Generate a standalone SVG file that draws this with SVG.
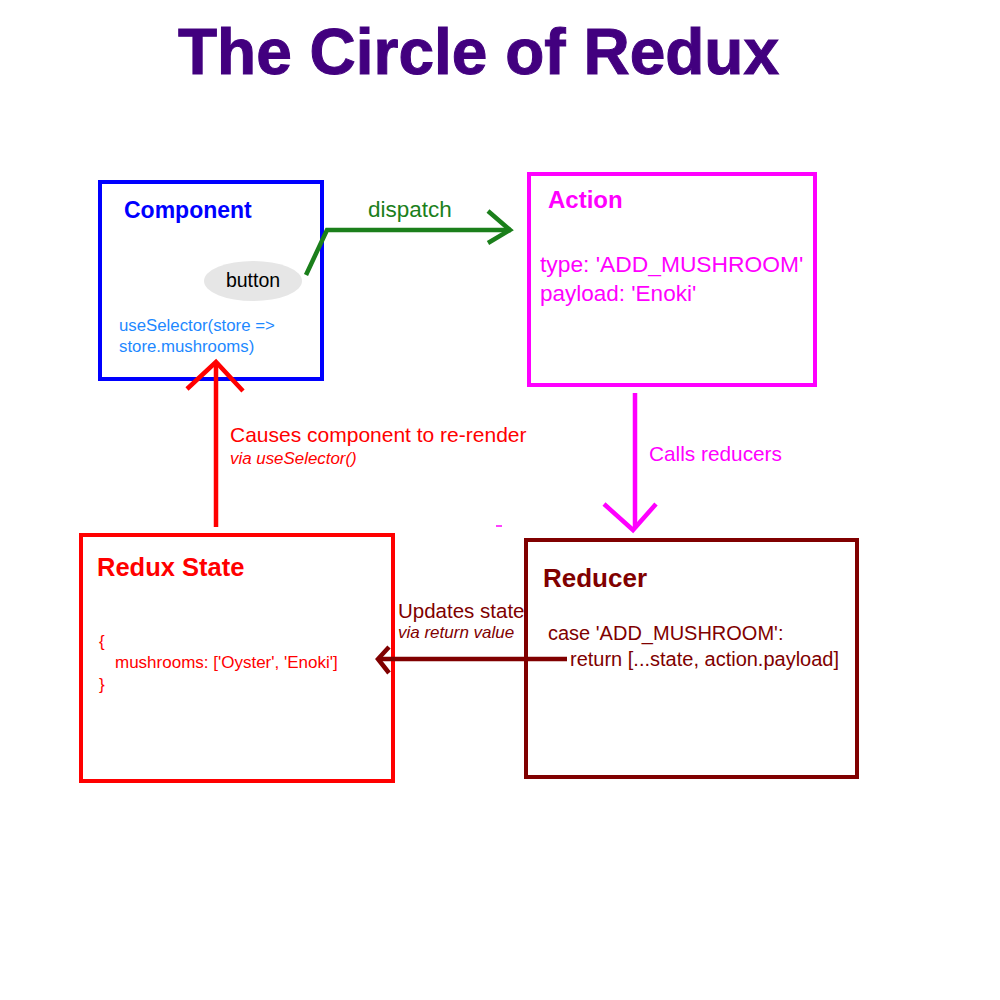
<svg xmlns="http://www.w3.org/2000/svg" width="1000" height="1000" viewBox="0 0 1000 1000">
<style>
text{font-family:"Liberation Sans",Arial,Helvetica,sans-serif}
.h{font-weight:bold}
.box{fill:none;stroke-width:4}
.ln{fill:none;stroke-width:4.5;stroke-linejoin:miter}
</style>
<rect width="1000" height="1000" fill="#ffffff"/>
<text x="178" y="74" class="h" font-size="64" fill="#42007f" stroke="#42007f" stroke-width="1">The Circle of Redux</text>

<g id="component">
<rect class="box" x="100" y="182" width="222" height="197" stroke="#0000ff"/>
<text x="124" y="218" class="h" font-size="23" fill="#0000ff">Component</text>
<ellipse cx="253" cy="281" rx="49" ry="20" fill="#e6e6e6"/>
<text x="253" y="287" font-size="19.5" fill="#000000" text-anchor="middle">button</text>
<text x="119" y="331" font-size="16.8" fill="#1e88ff">useSelector(store =&gt;</text>
<text x="119" y="352" font-size="16.8" fill="#1e88ff">store.mushrooms)</text>
</g>

<g id="action">
<rect class="box" x="529" y="174" width="286" height="211" stroke="#ff00ff"/>
<text x="548" y="208" class="h" font-size="24" fill="#ff00ff">Action</text>
<text x="540" y="272" font-size="22.8" fill="#ff00ff">type: 'ADD_MUSHROOM'</text>
<text x="540" y="301" font-size="22.5" fill="#ff00ff">payload: 'Enoki'</text>
</g>

<g id="reducer">
<rect class="box" x="526" y="540" width="331" height="237" stroke="#800000"/>
<text x="543" y="587" class="h" font-size="26" fill="#800000">Reducer</text>
<text x="548" y="640" font-size="20" fill="#800000">case 'ADD_MUSHROOM':</text>
<text x="570" y="666" font-size="20" fill="#800000">return [...state, action.payload]</text>
</g>

<g id="redux-state">
<rect class="box" x="81" y="535" width="312" height="246" stroke="#ff0000"/>
<text x="97" y="576" class="h" font-size="25.5" fill="#ff0000">Redux State</text>
<text x="99" y="647" font-size="17" fill="#ff0000">{</text>
<text x="115" y="668" font-size="17" fill="#ff0000">mushrooms: ['Oyster', 'Enoki']</text>
<text x="99" y="690" font-size="17" fill="#ff0000">}</text>
</g>

<g id="connectors">
<polyline class="ln" stroke="#1b7f1b" points="306,275 327,230 511,230"/>
<polyline class="ln" stroke="#1b7f1b" points="488,211 510,230 488,243"/>
<text x="368" y="217" font-size="22.5" fill="#1b7f1b">dispatch</text>

<line class="ln" stroke="#ff00ff" x1="635" y1="393" x2="635" y2="528"/>
<polyline class="ln" stroke="#ff00ff" points="604,504 633,530 656,504"/>
<text x="649" y="461" font-size="20.8" fill="#ff00ff">Calls reducers</text>
<line stroke="#ff00ff" stroke-width="1.5" x1="496" y1="526" x2="502" y2="526"/>

<line class="ln" stroke="#800000" x1="567" y1="659" x2="380" y2="659"/>
<polyline class="ln" stroke="#800000" points="389,647 378,659 389,673"/>
<text x="398" y="618" font-size="20.5" fill="#800000">Updates state</text>
<text x="398" y="638" font-size="17" font-style="italic" fill="#800000">via return value</text>

<line class="ln" stroke="#ff0000" x1="216" y1="527" x2="216" y2="364"/>
<polyline class="ln" stroke="#ff0000" points="187,389 216,362 243,391"/>
<text x="230" y="442" font-size="21" fill="#ff0000">Causes component to re-render</text>
<text x="230" y="464" font-size="16.9" font-style="italic" fill="#ff0000">via useSelector()</text>
</g>
</svg>
